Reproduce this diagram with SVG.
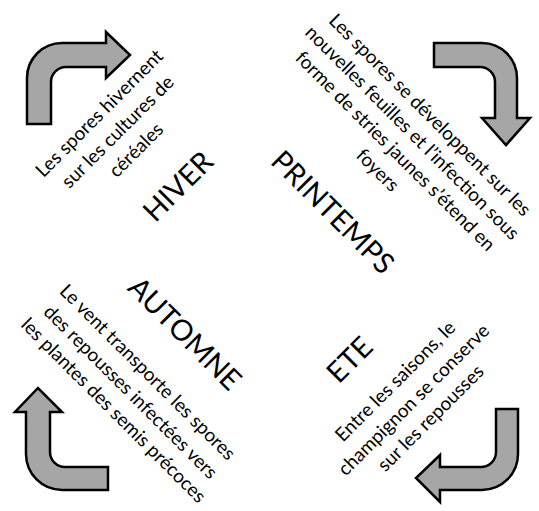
<svg xmlns="http://www.w3.org/2000/svg" width="539" height="511" viewBox="0 0 539 511">
<style>
.arrow{fill:#a6a6a6;stroke:#000;stroke-width:2.5;stroke-linejoin:miter}
.t{font-family:Lato,"Open Sans",sans-serif;font-size:19px;fill:#000;text-anchor:middle}
.s{font-family:Lato,"Open Sans",sans-serif;font-size:29px;fill:#000;text-anchor:middle}
</style>
<rect width="539" height="511" fill="#fff"/>
<g id="connectors">
<path id="arrow-hiver" class="arrow" d="M27,124 L27,78 A35,35 0 0 1 62,43 L106,43 L106,32 L130,55 L106,78 L106,67 L66,67 A15,15 0 0 0 51,82 L51,124 Z"/>
<path id="arrow-printemps" class="arrow" d="M434,43 L482,43 A35,35 0 0 1 517,78 L517,118 L530,118 L506,145 L482,118 L495,118 L495,82 A15,15 0 0 0 480,67 L434,67 Z"/>
<path id="arrow-automne" class="arrow" d="M108,490 L62,490 A36,36 0 0 1 26,454 L26,412 L15,412 L38,388 L62,412 L50,412 L50,452 A15,15 0 0 0 65,467 L108,467 Z"/>
<path id="arrow-ete" class="arrow" d="M518,409 L518,454 A36,36 0 0 1 482,490 L440,490 L440,502 L416,478 L440,455 L440,467 L481,467 A15,15 0 0 0 496,452 L496,409 Z"/>
</g>
<g id="hiver" transform="translate(118,132) rotate(-45)">
<text class="t" x="0" y="-20">Les spores hivernent</text>
<text class="t" x="0" y="6">sur les cultures de</text>
<text class="t" x="0" y="32">céréales</text>
<text class="s" x="4" y="91">HIVER</text>
</g>
<g id="printemps" transform="translate(412,133) rotate(45)">
<text class="t" x="0" y="-19">Les spores se développent sur les</text>
<text class="t" x="0" y="6">nouvelles feuilles et l’infection sous</text>
<text class="t" x="1" y="31">forme de stries jaunes s’étend en</text>
<text class="t" x="2" y="57">foyers</text>
<text class="s" x="0" y="122">PRINTEMPS</text>
</g>
<g id="automne" transform="translate(131,393) rotate(45)">
<text class="t" x="-3" y="-20">Le vent transporte les spores</text>
<text class="t" x="-1" y="6">des repousses infectées vers</text>
<text class="t" x="0" y="31">les plantes des semis précoces</text>
<text class="s" x="-4" y="-70">AUTOMNE</text>
</g>
<g id="ete" transform="translate(414,400) rotate(-45)">
<text class="t" x="0" y="-20">Entre les saisons, le</text>
<text class="t" x="0" y="6">champignon se conserve</text>
<text class="t" x="-1" y="31">sur les repousses</text>
<text class="s" x="-17" y="-64">ETE</text>
</g>
</svg>
